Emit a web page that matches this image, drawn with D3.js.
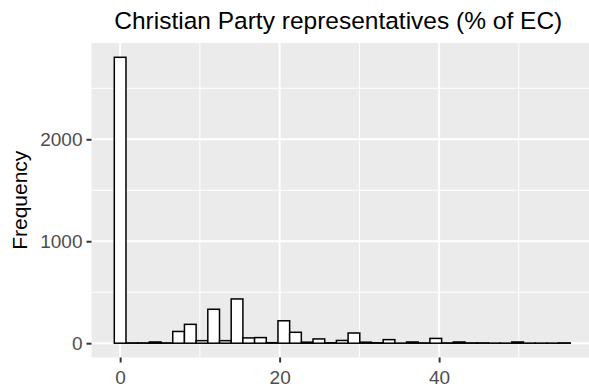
<!DOCTYPE html>
<html>
<head>
<meta charset="utf-8">
<script src="https://cdn.jsdelivr.net/npm/d3@7"></script>
<style>
  body { margin: 0; background: #ffffff; }
  svg { display: block; font-family: "Liberation Sans", Arial, sans-serif; }
</style>
</head>
<body>
<svg id="hist_svg"></svg>
<script>
// Histogram data (counts per bin, first bin centred on 0)
var binWidth = 1.466;
var binCounts = [2804, 3, 3, 12, 3, 115, 185, 25, 333, 25,
                 434, 52, 55, 5, 220, 107, 10, 42, 4, 27,
                 100, 10, 4, 35, 1, 12, 3, 47, 3, 12,
                 3, 3, 1, 1, 12, 1, 1, 1, 3];
var xTicks = [0, 20, 40];
var xMinor = [10, 30, 50];
var yTicks = [0, 1000, 2000];
var yMinor = [500, 1500, 2500];
var titleText = "Christian Party representatives (% of EC)";
var yTitle = "Frequency";

var W = 589, H = 392;
var panel = { left: 91.5, right: 593, top: 43, bottom: 357.5 };

var bins = binCounts.map(function (c, i) {
    return { x0: (i - 0.5) * binWidth, x1: (i + 0.5) * binWidth, count: c };
});

// ggplot style 5% expansion on both axes
var xLo = bins[0].x0, xHi = bins[bins.length - 1].x1;
var xPad = (xHi - xLo) * 0.05;
var yMax = d3.max(binCounts), yPad = yMax * 0.05;

var x = d3.scaleLinear().domain([xLo - xPad, xHi + xPad]).range([panel.left, panel.right]);
var y = d3.scaleLinear().domain([-yPad, yMax + yPad]).range([panel.bottom, panel.top]);

var svg = d3.select('#hist_svg').attr('width', W).attr('height', H);

// Panel background
svg.append('rect')
   .attr('x', panel.left)
   .attr('y', panel.top)
   .attr('width', panel.right - panel.left)
   .attr('height', panel.bottom - panel.top)
   .attr('fill', '#EBEBEB');

var grid = svg.append('g');
// minor grid
grid.selectAll('.xminor').data(xMinor).enter().append('line')
    .attr('x1', function (d) { return x(d); }).attr('x2', function (d) { return x(d); })
    .attr('y1', panel.top).attr('y2', panel.bottom)
    .attr('stroke', '#ffffff').attr('stroke-width', 1);
grid.selectAll('.yminor').data(yMinor).enter().append('line')
    .attr('y1', function (d) { return y(d); }).attr('y2', function (d) { return y(d); })
    .attr('x1', panel.left).attr('x2', panel.right)
    .attr('stroke', '#ffffff').attr('stroke-width', 1);
// major grid
grid.selectAll('.xmajor').data(xTicks).enter().append('line')
    .attr('x1', function (d) { return x(d); }).attr('x2', function (d) { return x(d); })
    .attr('y1', panel.top).attr('y2', panel.bottom)
    .attr('stroke', '#ffffff').attr('stroke-width', 2);
grid.selectAll('.ymajor').data(yTicks).enter().append('line')
    .attr('y1', function (d) { return y(d); }).attr('y2', function (d) { return y(d); })
    .attr('x1', panel.left).attr('x2', panel.right)
    .attr('stroke', '#ffffff').attr('stroke-width', 2);

// Bars
svg.append('g').selectAll('rect')
   .data(bins)
   .enter()
   .append('rect')
     .attr('x', function (d) { return x(d.x0); })
     .attr('width', function (d) { return x(d.x1) - x(d.x0); })
     .attr('y', function (d) { return y(d.count); })
     .attr('height', function (d) { return y(0) - y(d.count); })
     .attr('fill', '#ffffff')
     .attr('stroke', '#000000')
     .attr('stroke-width', 1.5);

// Axes (ggplot look: grey ticks, no domain line)
var xAxis = svg.append('g')
    .attr('transform', 'translate(0,' + panel.bottom + ')')
    .call(d3.axisBottom(x).tickValues(xTicks).tickSize(5).tickPadding(8).tickFormat(d3.format('d')));
var yAxis = svg.append('g')
    .attr('transform', 'translate(' + panel.left + ',0)')
    .call(d3.axisLeft(y).tickValues(yTicks).tickSize(5).tickPadding(4).tickFormat(d3.format('d')));

[xAxis, yAxis].forEach(function (a) {
    a.select('.domain').remove();
    a.selectAll('.tick line').attr('stroke', '#333333').attr('stroke-width', 2);
    a.selectAll('.tick text')
     .attr('fill', '#4D4D4D')
     .style('font-family', '"Liberation Sans", Arial, sans-serif')
     .style('font-size', '19px');
});
yAxis.selectAll('.tick text').attr('dy', '0.35em');

// Titles
svg.append('text')
   .attr('x', (panel.left + panel.right) / 2 - 4)
   .attr('y', 29)
   .attr('text-anchor', 'middle')
   .attr('fill', '#000000')
   .style('font-size', '24.5px')
   .text(titleText);

svg.append('text')
   .attr('transform', 'translate(27,' + ((panel.top + panel.bottom) / 2) + ') rotate(-90)')
   .attr('text-anchor', 'middle')
   .attr('fill', '#000000')
   .style('font-size', '21px')
   .text(yTitle);
</script>
</body>
</html>
